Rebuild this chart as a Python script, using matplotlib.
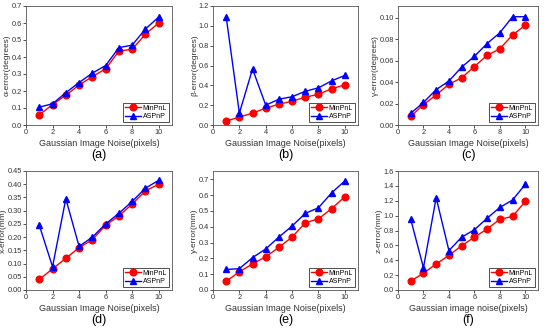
import matplotlib.pyplot as plt

plt.rcParams['font.family'] = ['Liberation Sans', 'DejaVu Sans']

# Данные: уровень шума и ошибки двух методов
noise = [1, 2, 3, 4, 5, 6, 7, 8, 9, 10]

alpha_minpnl = [0.06, 0.12, 0.175, 0.235, 0.285, 0.33, 0.435, 0.445, 0.535, 0.60]
alpha_aspnp = [0.105, 0.125, 0.19, 0.25, 0.305, 0.35, 0.455, 0.47, 0.565, 0.635]

beta_minpnl = [0.04, 0.08, 0.12, 0.17, 0.21, 0.24, 0.28, 0.31, 0.365, 0.405]
beta_aspnp = [1.09, 0.12, 0.565, 0.20, 0.26, 0.285, 0.34, 0.375, 0.445, 0.50]

gamma_minpnl = [0.008, 0.019, 0.028, 0.038, 0.044, 0.0545, 0.065, 0.071, 0.084, 0.093]
gamma_aspnp = [0.011, 0.021, 0.033, 0.041, 0.054, 0.064, 0.076, 0.086, 0.101, 0.101]

x_minpnl = [0.04, 0.08, 0.12, 0.16, 0.19, 0.245, 0.28, 0.325, 0.375, 0.40]
x_aspnp = [0.245, 0.088, 0.345, 0.165, 0.20, 0.25, 0.29, 0.335, 0.385, 0.415]

y_minpnl = [0.055, 0.115, 0.165, 0.21, 0.27, 0.335, 0.425, 0.45, 0.515, 0.59]
y_aspnp = [0.13, 0.135, 0.205, 0.26, 0.335, 0.405, 0.485, 0.52, 0.615, 0.69]

z_minpnl = [0.12, 0.225, 0.35, 0.465, 0.595, 0.71, 0.82, 0.95, 0.99, 1.19]
z_aspnp = [0.95, 0.30, 1.24, 0.53, 0.71, 0.81, 0.965, 1.11, 1.21, 1.42]

ylabels = ['α-error(degrees)', 'β-error(degrees)', 'γ-error(degrees)',
           'x-error(mm)', 'y-error(mm)', 'z-error(mm)']
xlabels = ['Gaussian Image Noise(pixels)'] * 5 + ['Gaussian image noise(pixels)']
letters = ['(a)', '(b)', '(c)', '(d)', '(e)', '(f)']
ylims = [(0, 0.7), (0, 1.2), (0, 0.111), (0, 0.45), (0, 0.753), (0, 1.6)]
yticks = [
    [0.0, 0.1, 0.2, 0.3, 0.4, 0.5, 0.6, 0.7],
    [0.0, 0.2, 0.4, 0.6, 0.8, 1.0, 1.2],
    [0.00, 0.02, 0.04, 0.06, 0.08, 0.10],
    [0.00, 0.05, 0.10, 0.15, 0.20, 0.25, 0.30, 0.35, 0.40, 0.45],
    [0.0, 0.1, 0.2, 0.3, 0.4, 0.5, 0.6, 0.7],
    [0.0, 0.2, 0.4, 0.6, 0.8, 1.0, 1.2, 1.4, 1.6],
]
yfmt = ['%.1f', '%.1f', '%.2f', '%.2f', '%.1f', '%.1f']
series = [(alpha_minpnl, alpha_aspnp), (beta_minpnl, beta_aspnp),
          (gamma_minpnl, gamma_aspnp), (x_minpnl, x_aspnp),
          (y_minpnl, y_aspnp), (z_minpnl, z_aspnp)]

W, H = 550, 332
fig = plt.figure(figsize=(5.5, 3.32), dpi=100)

# положение осей в пикселях: (лево, право), (верх, низ)
cols = [(26, 172), (213, 358), (398, 538)]
rows = [(6, 125), (171, 290)]

for i in range(6):
    (l, r) = cols[i % 3]
    (t, b) = rows[i // 3]
    ax = fig.add_axes([l / W, 1 - b / H, (r - l) / W, (b - t) / H])
    m, a = series[i]
    ax.plot(noise, m, color='#ff0000', marker='o', markersize=4.8,
            linewidth=1, label='MinPnL')
    ax.plot(noise, a, color='#0000ff', marker='^', markersize=4.8,
            linewidth=1, label='ASPnP')
    ax.set_xlim(0, 11)
    ax.set_xticks([0, 2, 4, 6, 8, 10])
    ax.set_ylim(*ylims[i])
    ax.set_yticks(yticks[i])
    ax.set_yticklabels([yfmt[i] % v for v in yticks[i]])
    ax.tick_params(labelsize=5.3, length=2, width=0.6, pad=1, colors='#333333')
    for s in ax.spines.values():
        s.set_linewidth(0.6)
        s.set_color('#555555')
    ax.set_ylabel(ylabels[i], fontsize=6, labelpad=0.5, color='#333333')
    ax.set_xlabel(xlabels[i], fontsize=6.5, labelpad=2, color='#333333')
    ax.text(0.5, -0.25, letters[i], transform=ax.transAxes, ha='center',
            va='center', fontsize=9)
    leg = ax.legend(loc='lower right', fontsize=5, fancybox=False,
                    framealpha=1, edgecolor='#333333', borderpad=0.3,
                    handlelength=2.2, handletextpad=0.3, labelspacing=0.2,
                    borderaxespad=0.4)
    leg.get_frame().set_linewidth(0.6)

fig.savefig('out.png', dpi=100)
